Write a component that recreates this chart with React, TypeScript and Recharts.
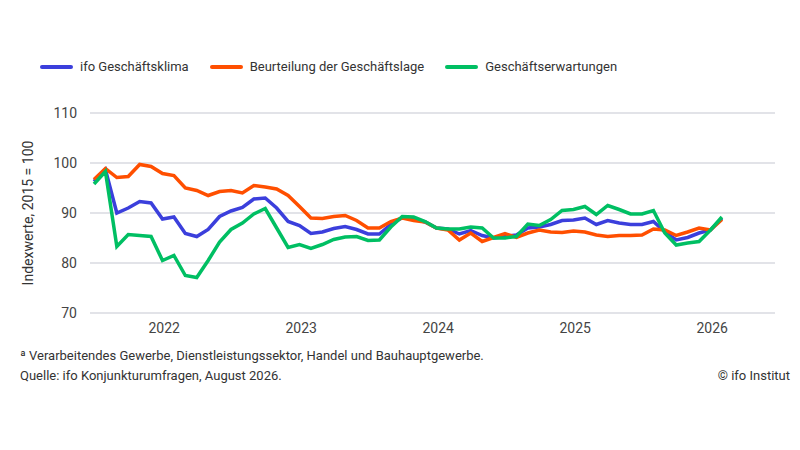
import { CartesianGrid, Legend, Line, LineChart, XAxis, YAxis } from "recharts";

const yearLabels = ["2022", "2023", "2024", "2025", "2026"];
const yTicks = [70, 80, 90, 100, 110];

// monthly values, Jan 2022 - Aug 2026
const geschaeftsklima = [
  96.3, 98.7, 90.0, 91.0, 92.3, 92.0, 88.8, 89.2, 85.9, 85.3, 86.7, 89.3,
  90.4, 91.1, 92.8, 93.0, 91.0, 88.3, 87.5, 85.9, 86.2, 86.9, 87.3, 86.7,
  85.8, 85.8, 87.7, 89.1, 88.9, 88.2, 87.0, 86.8, 85.8, 86.5, 85.5, 85.0,
  85.3, 85.6, 87.0, 87.2, 87.7, 88.5, 88.6, 89.0, 87.7, 88.5, 88.0, 87.7,
  87.7, 88.3, 86.2, 84.6, 85.1, 86.0, 86.6, 88.9,
];
const geschaeftslage = [
  96.7, 98.9, 97.1, 97.3, 99.7, 99.3, 97.9, 97.5, 95.0, 94.5, 93.5, 94.3,
  94.5, 94.0, 95.5, 95.2, 94.8, 93.5, 91.3, 89.0, 88.9, 89.3, 89.5, 88.5,
  87.0, 87.0, 88.3, 89.0, 88.5, 88.2, 87.0, 86.6, 84.6, 86.0, 84.3, 85.1,
  85.9, 85.1, 86.0, 86.6, 86.2, 86.1, 86.4, 86.2, 85.6, 85.3, 85.5, 85.5,
  85.6, 86.8, 86.6, 85.5, 86.2, 87.0, 86.6, 88.7,
];
const geschaeftserwartungen = [
  95.8, 98.3, 83.3, 85.7, 85.5, 85.3, 80.5, 81.5, 77.5, 77.1, 80.5, 84.2,
  86.7, 88.0, 89.8, 90.9, 87.0, 83.1, 83.7, 82.9, 83.7, 84.7, 85.2, 85.3,
  84.5, 84.6, 87.2, 89.3, 89.2, 88.3, 87.0, 86.8, 86.8, 87.2, 87.0, 85.0,
  85.0, 85.3, 87.8, 87.5, 88.7, 90.5, 90.7, 91.3, 89.7, 91.5, 90.7, 89.8,
  89.8, 90.5, 86.0, 83.6, 84.0, 84.3, 86.6, 89.2,
];

const series = [
  { key: "klima", name: "ifo Geschäftsklima", color: "#3b3fdc" },
  { key: "lage", name: "Beurteilung der Geschäftslage", color: "#ff4f00" },
  { key: "erwartungen", name: "Geschäftserwartungen", color: "#00bf63" },
];

const data = geschaeftsklima.map((v, i) => ({
  month: i + 0.35,
  klima: v,
  lage: geschaeftslage[i],
  erwartungen: geschaeftserwartungen[i],
}));

const yearStarts = [...yearLabels.map((_, i) => i * 12), yearLabels.length * 12];
const yearMids = yearLabels.map((_, i) => i * 12 + 6.5);

const font = "Roboto, 'Noto Sans', sans-serif";

function LegendBox() {
  return (
    <div style={{ display: "flex", alignItems: "center", fontFamily: font }}>
      {series.map((s) => (
        <div
          key={s.key}
          style={{ display: "flex", alignItems: "center", marginRight: 21 }}
        >
          <div
            style={{
              width: 33,
              height: 4,
              borderRadius: 2,
              background: s.color,
              marginRight: 7,
            }}
          />
          <span style={{ fontSize: 13, color: "#333" }}>{s.name}</span>
        </div>
      ))}
    </div>
  );
}

export default function App() {
  return (
    <div
      style={{
        position: "absolute",
        left: 0,
        top: 0,
        width: 800,
        height: 450,
        background: "#fff",
        fontFamily: font,
      }}
    >
      <LineChart
        width={800}
        height={450}
        data={data}
        margin={{ top: 113, right: 25, bottom: 107, left: 15 }}
      >
        <CartesianGrid
          horizontal
          vertical={false}
          stroke="#c6c8d2"
          strokeWidth={1.2}
        />
        <XAxis
          xAxisId="grid"
          dataKey="month"
          type="number"
          domain={[0, 60]}
          ticks={yearStarts}
          tickFormatter={() => ""}
          tickSize={5}
          height={0}
          stroke="#d2d3da"
          strokeWidth={1.5}
        />
        <XAxis
          xAxisId="labels"
          dataKey="month"
          type="number"
          domain={[0, 60]}
          ticks={yearMids}
          tickFormatter={(v) => yearLabels[Math.floor(v / 12)]}
          axisLine={false}
          tickLine={false}
          tickSize={0}
          tickMargin={10}
          height={30}
          tick={{ fontSize: 14, fill: "#444", fontFamily: font }}
        />
        <YAxis
          domain={[70, 110]}
          ticks={yTicks}
          axisLine={false}
          tickLine={false}
          tickSize={6}
          tickMargin={7}
          width={75}
          tick={{ fontSize: 14, fill: "#444", fontFamily: font }}
          label={{
            value: "Indexwerte, 2015 = 100",
            angle: -90,
            position: "insideLeft",
            offset: 13,
            style: { textAnchor: "middle", fontSize: 14, fill: "#333", fontFamily: font },
          }}
        />
        <Legend
          verticalAlign="middle"
          layout="horizontal"
          content={() => <LegendBox />}
          wrapperStyle={{ top: 59, left: 40, width: 700 }}
        />
        {series.map((s) => (
          <Line
            key={s.key}
            xAxisId="grid"
            type="linear"
            dataKey={s.key}
            name={s.name}
            stroke={s.color}
            strokeWidth={3.5}
            dot={false}
            activeDot={false}
            isAnimationActive={false}
          />
        ))}
      </LineChart>
      <div
        style={{
          position: "absolute",
          left: 20,
          top: 348,
          fontSize: 13,
          color: "#333",
        }}
      >
        ª Verarbeitendes Gewerbe, Dienstleistungssektor, Handel und Bauhauptgewerbe.
      </div>
      <div
        style={{
          position: "absolute",
          left: 20,
          top: 368,
          fontSize: 13,
          color: "#333",
        }}
      >
        Quelle: ifo Konjunkturumfragen, August 2026.
      </div>
      <div
        style={{
          position: "absolute",
          right: 10,
          top: 368,
          fontSize: 13,
          color: "#333",
        }}
      >
        © ifo Institut
      </div>
    </div>
  );
}
